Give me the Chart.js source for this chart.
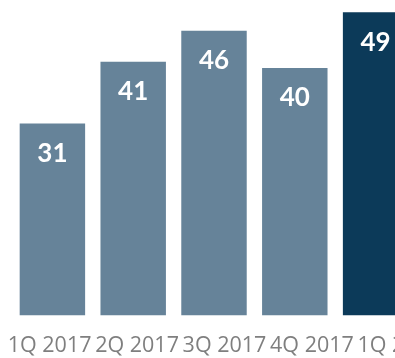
<!DOCTYPE html>
<html>
<head>
<meta charset="utf-8">
<script src="https://cdn.jsdelivr.net/npm/chart.js@4/dist/chart.umd.min.js"></script>
<style>
  html, body { margin: 0; padding: 0; background: #fff; }
  #frame { width: 395px; height: 358px; overflow: hidden; position: relative; }
  #wrap { width: 420px; height: 358px; position: absolute; left: 0; top: 0; }
</style>
</head>
<body>
<div id="frame"><div id="wrap"><canvas id="chart"></canvas></div></div>
<script>
// -- data ----------------------------------------------------------------
const quarters = ['1Q 2017', '2Q 2017', '3Q 2017', '4Q 2017', '1Q 2018'];
const values   = [31, 41, 46, 40, 49];

const C = {
  bar:   '#668399',
  last:  '#0c3a59',
  label: '#7f7f7f',
  value: '#ffffff',
};

// value labels drawn inside the top of each bar
const valueLabels = {
  id: 'valueLabels',
  afterDatasetsDraw(chart) {
    const ctx = chart.ctx;
    const meta = chart.getDatasetMeta(0);
    ctx.save();
    ctx.font = "bold 26px Lato, sans-serif";
    ctx.fillStyle = C.value;
    ctx.textAlign = 'center';
    ctx.textBaseline = 'middle';
    meta.data.forEach(function(bar, i) {
      ctx.fillText(String(values[i]), bar.x, bar.y + 30);
    });
    ctx.restore();
  }
};

new Chart(document.getElementById('chart'), {
  type: 'bar',
  data: {
    labels: quarters,
    datasets: [{
      data: values,
      backgroundColor: values.map((v, i) => i === values.length - 1 ? C.last : C.bar),
      borderWidth: 0,
      barPercentage: 0.81,
      categoryPercentage: 1,
    }],
  },
  options: {
    responsive: true,
    maintainAspectRatio: false,
    animation: false,
    layout: { padding: { left: 12, right: 4, top: 6, bottom: 0 } },
    plugins: { legend: { display: false }, tooltip: { enabled: false } },
    scales: {
      x: { display: false },
      // the quarter labels sit on a slightly wider pitch than the bars
      xLabels: {
        type: 'linear',
        position: 'bottom',
        offset: false,
        beginAtZero: false,
        min: -0.43,
        max: 4.19,
        grid: { display: false, offset: false, drawTicks: true, tickLength: 19 },
        border: { display: false },
        afterBuildTicks: (axis) => { axis.ticks = quarters.map((q, i) => ({ value: i })); },
        afterFit: (axis) => { axis.paddingLeft = 0; axis.paddingRight = 0; },
        ticks: {
          font: { family: "'Open Sans', sans-serif", size: 21.5, lineHeight: 1 },
          color: C.label,
          padding: 1,
          maxRotation: 0,
          autoSkip: false,
          callback: (v) => quarters[v],
        },
      },
      y: {
        display: false,
        min: 0,
        max: 50,
      },
    },
  },
  plugins: [valueLabels],
});
</script>
</body>
</html>
